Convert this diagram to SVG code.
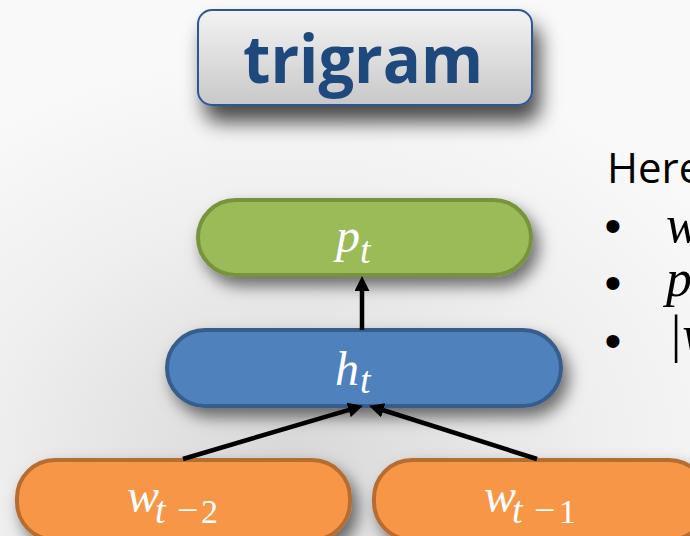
<svg xmlns="http://www.w3.org/2000/svg" width="690" height="536" viewBox="0 0 690 536">
  <defs>
    <linearGradient id="titleFill" x1="0" y1="0" x2="0" y2="1">
      <stop offset="0" stop-color="#f3f3f3"/>
      <stop offset="1" stop-color="#c8c8c8"/>
    </linearGradient>
    <radialGradient id="bg" cx="0.42" cy="0.85" r="0.75">
      <stop offset="0" stop-color="#d8d8d8"/>
      <stop offset="0.6" stop-color="#efefef"/>
      <stop offset="1" stop-color="#f9f9f9"/>
    </radialGradient>
    <filter id="titleShadow" x="-20%" y="-30%" width="140%" height="200%">
      <feDropShadow dx="7" dy="16" stdDeviation="10" flood-color="#000" flood-opacity="0.7"/>
    </filter>
    <filter id="nodeShadow" x="-20%" y="-40%" width="140%" height="200%">
      <feDropShadow dx="6" dy="9" stdDeviation="8" flood-color="#000" flood-opacity="0.55"/>
    </filter>
    <marker id="arrow" viewBox="0 0 15 15" markerWidth="15" markerHeight="15" refX="4" refY="7.5" orient="auto" markerUnits="userSpaceOnUse">
      <path d="M0,0 L15,7.5 L0,15 z" fill="#000"/>
    </marker>
    <style>
      .pill { stroke-width: 4; }
      .green { fill: #9bbb59; stroke: #77933c; }
      .blue { fill: #4f81bd; stroke: #385d8a; }
      .orange { fill: #f79646; stroke: #b66d31; }
      .math { font-family: "Liberation Serif", "DejaVu Serif", serif; font-style: italic; fill: #ffffff; }
      .up { font-style: normal; }
      .edge { stroke: #000; stroke-width: 4.5; fill: none; }
      .body { font-family: "Open Sans", "Liberation Sans", sans-serif; fill: #000; }
      .bullet { font-family: "Liberation Sans", "DejaVu Sans", sans-serif; fill: #000; font-size: 48px; }
      .bmath { font-family: "Liberation Serif", "DejaVu Serif", serif; font-style: italic; fill: #000; font-size: 52px; }
    </style>
  </defs>

  <rect x="0" y="0" width="690" height="536" fill="url(#bg)"/>

  <g id="title">
    <rect x="198" y="10" width="334" height="95" rx="14" fill="url(#titleFill)" stroke="#2f5597" stroke-width="2" filter="url(#titleShadow)"/>
    <text x="363" y="83" text-anchor="middle" textLength="240" lengthAdjust="spacingAndGlyphs" font-family="'Open Sans', 'Liberation Sans', sans-serif" font-weight="bold" font-size="67" fill="#1f497d">trigram</text>
  </g>

  <g id="node-p">
    <rect class="pill green" x="198" y="200" width="333" height="75" rx="37.5" filter="url(#nodeShadow)"/>
    <text class="math"><tspan x="336" y="252" font-size="48">p</tspan><tspan x="360" y="263" font-size="38">t</tspan></text>
  </g>

  <g id="node-h">
    <rect class="pill blue" x="167" y="330" width="394" height="76" rx="38" filter="url(#nodeShadow)"/>
    <text class="math"><tspan x="335" y="385" font-size="48">h</tspan><tspan x="360" y="393" font-size="38">t</tspan></text>
  </g>

  <g id="node-w2">
    <rect class="pill orange" x="17" y="460" width="333" height="80" rx="38" filter="url(#nodeShadow)"/>
    <text class="math"><tspan x="127" y="512" font-size="48">w</tspan><tspan x="155" y="523" font-size="38">t</tspan><tspan class="up" x="177" y="523" font-size="38">−</tspan><tspan class="up" x="201" y="523" font-size="34">2</tspan></text>
  </g>

  <g id="node-w1">
    <rect class="pill orange" x="374" y="460" width="333" height="80" rx="38" filter="url(#nodeShadow)"/>
    <text class="math"><tspan x="484" y="512" font-size="48">w</tspan><tspan x="512" y="523" font-size="38">t</tspan><tspan class="up" x="534" y="523" font-size="38">−</tspan><tspan class="up" x="559" y="523" font-size="34">1</tspan></text>
  </g>

  <g id="connectors">
    <line class="edge" x1="362" y1="330" x2="362" y2="287" marker-end="url(#arrow)"/>
    <line class="edge" x1="183" y1="459" x2="352.4" y2="408.8" marker-end="url(#arrow)"/>
    <line class="edge" x1="537" y1="459" x2="379.5" y2="409" marker-end="url(#arrow)"/>
  </g>

  <g id="notes">
    <text class="body" x="607" y="183" font-size="42">Here</text>
    <text class="bullet" x="613" y="242" text-anchor="middle">•</text>
    <text class="bullet" x="613" y="299" text-anchor="middle">•</text>
    <text class="bullet" x="613" y="357" text-anchor="middle">•</text>
    <text class="bmath" x="666" y="242">w</text>
    <text class="bmath" x="666" y="296">p</text>
    <text class="bmath" x="668" y="352">|w</text>
  </g>
</svg>
